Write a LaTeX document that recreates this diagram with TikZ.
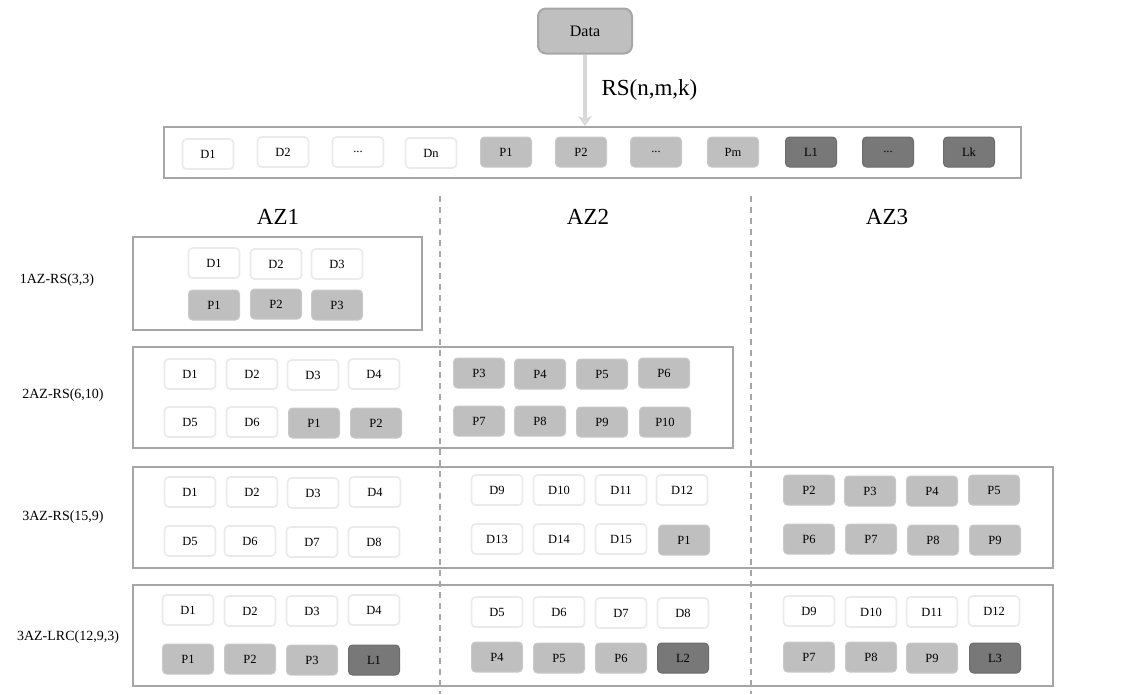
\documentclass[tikz,border=0pt]{standalone}
\usepackage{fontspec}
\setmainfont{Liberation Serif}
\usetikzlibrary{arrows.meta}
\definecolor{boxgray}{HTML}{A6A6A6}
\definecolor{dborder}{HTML}{EAEAEA}
\definecolor{pfill}{HTML}{BFBFBF}
\definecolor{pborder}{HTML}{C9C9C9}
\definecolor{lfill}{HTML}{787878}
\definecolor{lborder}{HTML}{6C6C6C}
\definecolor{arrowgray}{HTML}{D9D9D9}
\newcommand{\blk}[5]{\node[#4] (#1) at (#2,#3) {#5};}
\begin{document}
\begin{tikzpicture}[x=1pt,y=-1pt,
  blkbase/.style={rounded corners=4pt, minimum width=51pt, minimum height=30pt, inner sep=0pt, font=\fontsize{12.5}{14}\selectfont},
  dblk/.style={blkbase, draw=dborder, line width=1.6pt, fill=white},
  pblk/.style={blkbase, draw=pborder, line width=1pt, fill=pfill},
  lblk/.style={blkbase, draw=lborder, line width=1pt, fill=lfill},
  container/.style={draw=boxgray, line width=2pt, inner sep=0pt},
  rowlabel/.style={font=\fontsize{14}{16}\selectfont},
  azlabel/.style={font=\fontsize{23}{27}\selectfont},
  azline/.style={draw=boxgray, line width=1.8pt, dash pattern=on 6pt off 5pt}
]
\useasboundingbox (0,0) rectangle (1121,694);

% Data node and arrow
\node[rounded corners=8pt, draw=boxgray, line width=2pt, fill=pfill, minimum width=94pt, minimum height=45pt, font=\fontsize{16}{18}\selectfont] (data) at (585,31) {Data};
\node[container, minimum width=857pt, minimum height=51pt] (top) at (592.5,152.5) {};
\draw[arrowgray, line width=3.5pt, -{Stealth[length=10pt,width=14pt,fill=arrowgray!60]}] (data.south) -- (data.south |- top.north);
\node[font=\fontsize{23}{26}\selectfont, anchor=west] (rslabel) at (598,90) {RS(n,m,k)};

% top row blocks
\blk{t1}{208}{154}{dblk}{D1}
\blk{t2}{283}{152}{dblk}{D2}
\blk{t3}{358}{152}{dblk}{...}
\blk{t4}{431}{153}{dblk}{Dn}
\blk{t5}{506}{152}{pblk}{P1}
\blk{t6}{581}{152}{pblk}{P2}
\blk{t7}{656}{152}{pblk}{...}
\blk{t8}{733}{152}{pblk}{Pm}
\blk{t9}{811}{152}{lblk}{L1}
\blk{t10}{888}{152}{lblk}{...}
\blk{t11}{969}{152}{lblk}{Lk}

% AZ labels
\node[azlabel] (az1) at (278,217) {AZ1};
\node[azlabel] (az2) at (588,217) {AZ2};
\node[azlabel] (az3) at (887,217) {AZ3};

% row labels
\node[rowlabel] (r1) at (57,280) {1AZ-RS(3,3)};
\node[rowlabel] (r2) at (63,395) {2AZ-RS(6,10)};
\node[rowlabel] (r3) at (63,517) {3AZ-RS(15,9)};
\node[rowlabel] (r4) at (68,637) {3AZ-LRC(12,9,3)};

% containers
\node[container, minimum width=289pt, minimum height=93pt] (box1) at (277.5,283.5) {};
\node[container, minimum width=600pt, minimum height=101pt] (box2) at (433,397.5) {};
\node[container, minimum width=920pt, minimum height=101pt] (box3) at (593,517.5) {};
\node[container, minimum width=920pt, minimum height=101pt] (box4) at (593,635.5) {};

% row 1
\blk{a1}{214}{263}{dblk}{D1}
\blk{a2}{276}{264}{dblk}{D2}
\blk{a3}{337}{264}{dblk}{D3}
\blk{a4}{214}{305}{pblk}{P1}
\blk{a5}{276}{304}{pblk}{P2}
\blk{a6}{337}{305}{pblk}{P3}

% row 2
\blk{b1}{190}{374}{dblk}{D1}
\blk{b2}{252}{374}{dblk}{D2}
\blk{b3}{313}{375}{dblk}{D3}
\blk{b4}{374}{374}{dblk}{D4}
\blk{b5}{190}{422}{dblk}{D5}
\blk{b6}{252}{422}{dblk}{D6}
\blk{b7}{314}{423}{pblk}{P1}
\blk{b8}{376}{423}{pblk}{P2}
\blk{b9}{479}{373}{pblk}{P3}
\blk{b10}{540}{374}{pblk}{P4}
\blk{b11}{602}{374}{pblk}{P5}
\blk{b12}{664}{373}{pblk}{P6}
\blk{b13}{479}{421}{pblk}{P7}
\blk{b14}{540}{421}{pblk}{P8}
\blk{b15}{602}{422}{pblk}{P9}
\blk{b16}{665}{422}{pblk}{P10}

% row 3
\blk{c1}{190}{492}{dblk}{D1}
\blk{c2}{252}{492}{dblk}{D2}
\blk{c3}{313}{493}{dblk}{D3}
\blk{c4}{375}{492}{dblk}{D4}
\blk{c5}{190}{541}{dblk}{D5}
\blk{c6}{250}{541}{dblk}{D6}
\blk{c7}{312}{542}{dblk}{D7}
\blk{c8}{374}{542}{dblk}{D8}
\blk{c9}{497}{490}{dblk}{D9}
\blk{c10}{559}{490}{dblk}{D10}
\blk{c11}{621}{490}{dblk}{D11}
\blk{c12}{682}{490}{dblk}{D12}
\blk{c13}{497}{539}{dblk}{D13}
\blk{c14}{559}{539}{dblk}{D14}
\blk{c15}{621}{539}{dblk}{D15}
\blk{c16}{684}{540}{pblk}{P1}
\blk{c17}{809}{490}{pblk}{P2}
\blk{c18}{870}{491}{pblk}{P3}
\blk{c19}{932}{491}{pblk}{P4}
\blk{c20}{994}{490}{pblk}{P5}
\blk{c21}{809}{539}{pblk}{P6}
\blk{c22}{871}{539}{pblk}{P7}
\blk{c23}{933}{540}{pblk}{P8}
\blk{c24}{995}{540}{pblk}{P9}

% row 4
\blk{d1}{188}{610}{dblk}{D1}
\blk{d2}{250}{611}{dblk}{D2}
\blk{d3}{312}{611}{dblk}{D3}
\blk{d4}{374}{610}{dblk}{D4}
\blk{d5}{188}{659}{pblk}{P1}
\blk{d6}{250}{659}{pblk}{P2}
\blk{d7}{312}{660}{pblk}{P3}
\blk{d8}{374}{660}{lblk}{L1}
\blk{d9}{497}{612}{dblk}{D5}
\blk{d10}{559}{612}{dblk}{D6}
\blk{d11}{621}{613}{dblk}{D7}
\blk{d12}{683}{613}{dblk}{D8}
\blk{d13}{497}{657}{pblk}{P4}
\blk{d14}{559}{658}{pblk}{P5}
\blk{d15}{621}{658}{pblk}{P6}
\blk{d16}{683}{658}{lblk}{L2}
\blk{d17}{809}{611}{dblk}{D9}
\blk{d18}{871}{612}{dblk}{D10}
\blk{d19}{932}{612}{dblk}{D11}
\blk{d20}{994}{611}{dblk}{D12}
\blk{d21}{809}{657}{pblk}{P7}
\blk{d22}{871}{657}{pblk}{P8}
\blk{d23}{932}{658}{pblk}{P9}
\blk{d24}{995}{658}{lblk}{L3}

% AZ separators
\coordinate (s1a) at (440,196);
\coordinate (s1b) at (440,694);
\coordinate (s2a) at (751,196);
\coordinate (s2b) at (751,694);
\draw[azline] (s1a) -- (s1b);
\draw[azline] (s2a) -- (s2b);
\end{tikzpicture}
\end{document}
